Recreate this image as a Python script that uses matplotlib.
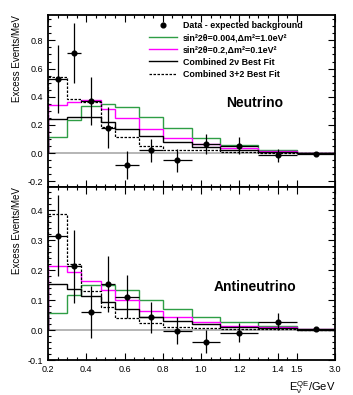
import numpy as np
import matplotlib
matplotlib.use('Agg')
import matplotlib.pyplot as plt
from matplotlib.lines import Line2D

plt.rcParams['font.family'] = ['Liberation Sans', 'DejaVu Sans']
plt.rcParams['mathtext.fontset'] = 'custom'
plt.rcParams['mathtext.rm'] = 'Liberation Sans'
plt.rcParams['mathtext.it'] = 'Liberation Sans'

# bin edges (GeV) and data point centres
edges = [0.2, 0.3, 0.375, 0.475, 0.55, 0.675, 0.8, 0.95, 1.1, 1.3, 1.5, 3.0]
centres = [0.25, 0.3375, 0.425, 0.5125, 0.6125, 0.7375, 0.875, 1.025, 1.2, 1.4, 2.25]

# neutrino mode
nu_data = [0.528, 0.71, 0.367, 0.182, -0.085, 0.019, -0.052, 0.066, 0.054, -0.014, -0.005]
nu_err = [0.24, 0.21, 0.17, 0.145, 0.10, 0.085, 0.08, 0.07, 0.062, 0.047, 0.01]
nu_green = [0.114, 0.232, 0.338, 0.348, 0.324, 0.253, 0.178, 0.107, 0.057, 0.024, 0.0]
nu_magenta = [0.341, 0.36, 0.379, 0.315, 0.249, 0.173, 0.111, 0.066, 0.036, 0.012, 0.0]
nu_2nu = [0.241, 0.253, 0.26, 0.218, 0.173, 0.123, 0.076, 0.047, 0.024, 0.007, 0.0]
nu_32 = [0.54, 0.386, 0.364, 0.187, 0.116, 0.054, 0.019, 0.019, 0.007, 0.0, 0.0]

# antineutrino mode
nub_data = [0.314, 0.213, 0.061, 0.153, 0.111, 0.042, -0.003, -0.039, -0.009, 0.028, 0.002]
nub_err = [0.135, 0.122, 0.087, 0.093, 0.072, 0.053, 0.045, 0.039, 0.031, 0.029, 0.005]
nub_green = [0.056, 0.116, 0.15, 0.15, 0.133, 0.1, 0.069, 0.042, 0.026, 0.013, 0.002]
nub_magenta = [0.214, 0.194, 0.164, 0.133, 0.1, 0.064, 0.042, 0.026, 0.013, 0.009, 0.002]
nub_2nu = [0.152, 0.136, 0.113, 0.092, 0.07, 0.044, 0.03, 0.02, 0.011, 0.006, 0.0]
nub_32 = [0.387, 0.22, 0.131, 0.076, 0.041, 0.022, 0.011, 0.008, 0.004, 0.002, 0.0]

labels = ['Data - expected background',
          'sin\u00b22\u03b8=0.004,\u0394m\u00b2=1.0eV\u00b2',
          'sin\u00b22\u03b8=0.2,\u0394m\u00b2=0.1eV\u00b2',
          'Combined 2\u03bd Best Fit',
          'Combined 3+2 Best Fit']

xticks = [0.2, 0.4, 0.6, 0.8, 1.0, 1.2, 1.4, 1.5, 3.0]
xticklabels = ['0.2', '0.4', '0.6', '0.8', '1.0', '1.2', '1.4', '1.5', '3.0']

GREEN = '#2e9e45'
MAGENTA = '#ff00ff'

# energy axis is linear up to 1.5 GeV, compressed above
K = 0.2 / 1.5


def fwd(x):
    x = np.asarray(x, dtype=float)
    return np.where(x <= 1.5, x, 1.5 + (x - 1.5) * K)


def inv(y):
    y = np.asarray(y, dtype=float)
    return np.where(y <= 1.5, y, 1.5 + (y - 1.5) / K)


fig = plt.figure(figsize=(3.53, 3.95), dpi=100)
ax1 = fig.add_axes([48 / 353, 1 - 187 / 395, 287 / 353, 172 / 395])
ax2 = fig.add_axes([48 / 353, 1 - 360 / 395, 287 / 353, 173 / 395])

panels = [
    (ax1, nu_data, nu_err, nu_green, nu_magenta, nu_2nu, nu_32, (-0.24, 0.98), 0.2, 0.05, 'Neutrino', 0.49),
    (ax2, nub_data, nub_err, nub_green, nub_magenta, nub_2nu, nub_32, (-0.1, 0.477), 0.1, 0.02, 'Antineutrino', 0.42),
]

xerr_lo = np.array(centres) - np.array(edges[:-1])
xerr_hi = np.array(edges[1:]) - np.array(centres)

for ax, data, err, g, m, b, d, ylim, major, minor, name, ty in panels:
    ax.set_xscale('function', functions=(fwd, inv))
    ax.axhline(0, color='#b0b0b0', lw=1.3, zorder=1)
    ax.stairs(g, edges, color=GREEN, lw=1.0, zorder=2)
    ax.stairs(m, edges, color=MAGENTA, lw=1.0, zorder=2)
    ax.stairs(b, edges, color='black', lw=1.0, zorder=3)
    ax.stairs(d, edges, color='black', lw=0.9, ls=(0, (2, 1.2)), zorder=3)
    ax.errorbar(centres, data, yerr=err, xerr=[xerr_lo, xerr_hi], fmt='o',
                color='black', ms=3.4, lw=0.9, capsize=0, zorder=4)
    ax.set_xlim(0.2, 3.0)
    ax.set_xticks(xticks)
    ax.set_xticks(np.arange(0.25, 1.5, 0.05), minor=True)
    yt = np.round(np.arange(-0.4, 1.0 + 1e-9, major), 2) + 0.0
    ax.set_yticks(yt[(yt >= ylim[0] - 1e-9) & (yt <= ylim[1])])
    ax.set_yticks(np.arange(-0.4, 1.0, minor), minor=True)
    ax.yaxis.set_major_formatter(plt.FormatStrFormatter('%.1f'))
    ax.set_ylim(*ylim)
    ax.tick_params(which='both', direction='in', top=True, right=True,
                   labelsize=6.5, width=0.8)
    ax.tick_params(which='major', length=5)
    ax.tick_params(which='minor', length=2.5)
    for s in ax.spines.values():
        s.set_linewidth(1.3)
    ax.set_ylabel('Excess Events/MeV', loc='top', fontsize=7)
    ax.text(0.72, ty, name, transform=ax.transAxes, ha='center', va='center',
            fontsize=10, fontweight='bold')

ax1.set_xticklabels([])
ax2.set_xticklabels(xticklabels)
ax2.set_xlabel(r'E$_\nu^{\mathrm{QE}}$/GeV', loc='right', fontsize=8)

handles = [
    Line2D([], [], marker='o', color='black', ls='none', ms=3.4),
    Line2D([], [], color=GREEN, lw=1.0),
    Line2D([], [], color=MAGENTA, lw=1.0),
    Line2D([], [], color='black', lw=1.0),
    Line2D([], [], color='black', lw=0.9, ls=(0, (2, 1.2))),
]
leg = ax1.legend(handles, labels, loc='upper left', bbox_to_anchor=(0.33, 1.0),
                 frameon=False, handlelength=3.2, handletextpad=0.6,
                 labelspacing=0.35, borderaxespad=0.3,
                 prop={'weight': 'bold', 'size': 6.4})

fig.savefig('out.png', dpi=100)
